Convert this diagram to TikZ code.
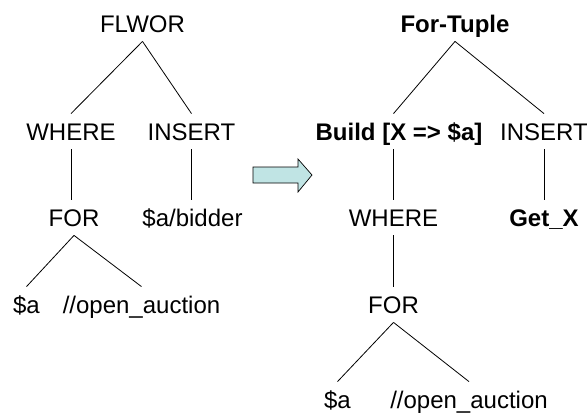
\documentclass[tikz,border=0pt]{standalone}
\usepackage{fontspec}
\setmainfont{Liberation Sans}
\definecolor{arrowfill}{RGB}{192,228,228}

\begin{document}
\begin{tikzpicture}[x=1pt,y=-1pt,
  lbl/.style={anchor=base,inner xsep=0pt,inner ysep=9.2pt,text height=17pt,text depth=0pt,
    font=\fontsize{24}{28}\selectfont},
  bld/.style={lbl,font=\fontsize{24}{28}\selectfont\bfseries},
  edge/.style={line width=0.8pt}]
\useasboundingbox (0,0) rectangle (587,413);

% plain FLWOR tree
\node[lbl] (flwor) at (142.5,32) {FLWOR};
\node[lbl] (where) at (71,140) {WHERE};
\node[lbl] (insert) at (191.5,140) {INSERT};
\node[lbl] (for) at (74,226) {FOR};
\node[lbl] (bidder) at (192.5,226) {\$a/bidder};
\node[lbl] (var) at (26.5,313) {\$a};
\node[lbl] (auction) at (141.5,313) {//open\_auction};

\draw[edge] (flwor.south) -- (where.north);
\draw[edge] (flwor.south) -- (insert.north);
\draw[edge] (where.south) -- (where.south |- for.north);
\draw[edge] (insert.south) -- (insert.south |- bidder.north);
\draw[edge] (for.south) -- (var.north);
\draw[edge] (for.south) -- (auction.north);

% rewrite arrow
\draw[fill=arrowfill,line width=0.7pt] (253,167) -- (298,167) -- (298,159) -- (312,175)
  -- (298,192) -- (298,183) -- (253,183) -- cycle;

% rewritten tree
\node[bld] (tuple) at (455,32) {For-Tuple};
\node[bld] (build) at (399,140) {Build [X => \$a]};
\node[lbl] (insert2) at (544,140) {INSERT};
\node[lbl] (where2) at (393.5,226) {WHERE};
\node[bld] (getx) at (544,226) {Get\_X};
\node[lbl] (for2) at (393.5,313) {FOR};
\node[lbl] (var2) at (337.5,408) {\$a};
\node[lbl] (auction2) at (469,408) {//open\_auction};

\draw[edge] (tuple.south) -- (build.north -| where2.north);
\draw[edge] (tuple.south) -- (insert2.north);
\draw[edge] (build.south -| where2.north) -- (where2.north);
\draw[edge] (insert2.south) -- (getx.north);
\draw[edge] (where2.south) -- (for2.north);
\draw[edge] (for2.south) -- (var2.north);
\draw[edge] (for2.south) -- (auction2.north);
\end{tikzpicture}
\end{document}
